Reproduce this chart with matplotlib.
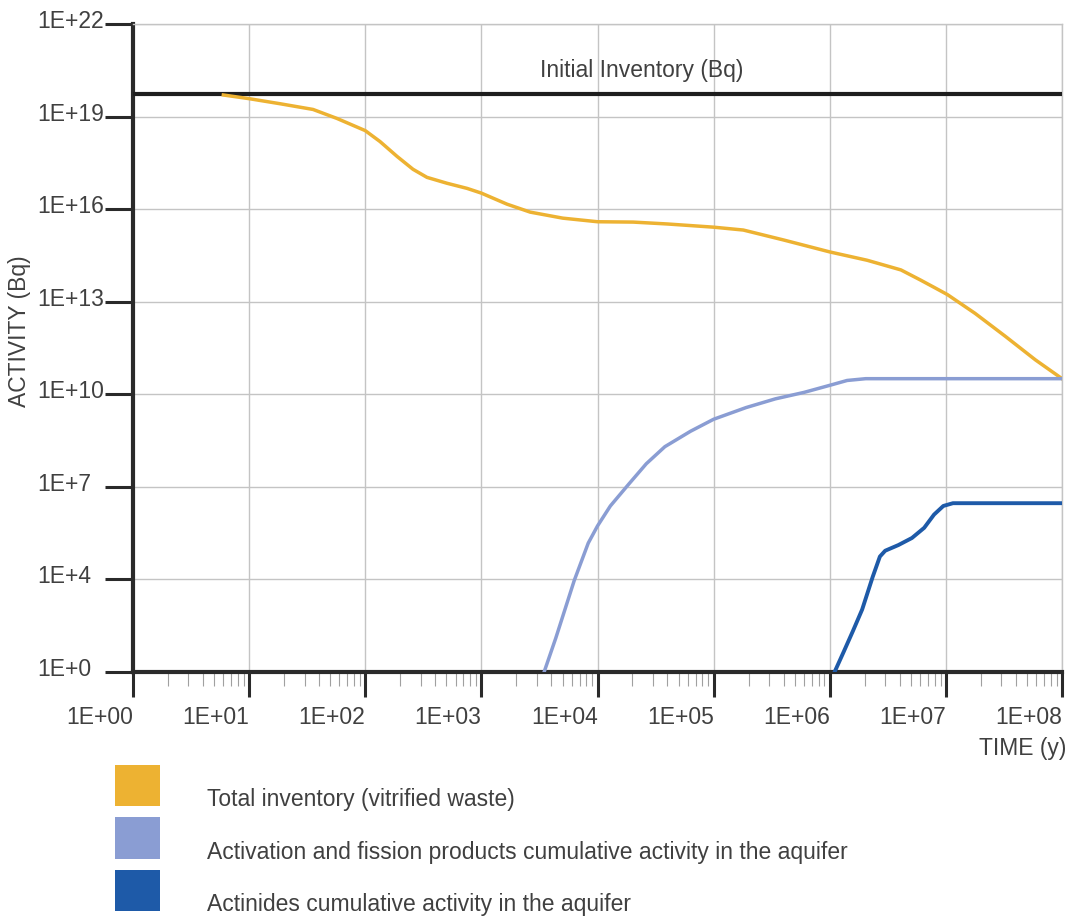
import numpy as np
import matplotlib
matplotlib.use("Agg")
import matplotlib.pyplot as plt
from matplotlib.patches import Patch, Rectangle
from matplotlib.legend_handler import HandlerPatch
from matplotlib.ticker import FixedLocator, LogLocator, NullFormatter, NullLocator
from matplotlib.transforms import ScaledTranslation

plt.rcParams["font.family"] = ["Liberation Sans", "DejaVu Sans"]

# the activity axis puts its labelled decades at equal spacing (0, 4, 7, 10 ... 22)
y_exponents = [0, 4, 7, 10, 13, 16, 19, 22]
y_tick_labels = ["1E+0", "1E+4", "1E+7", "1E+10", "1E+13", "1E+16", "1E+19", "1E+22"]
x_tick_labels = ["1E+00", "1E+01", "1E+02", "1E+03", "1E+04",
                 "1E+05", "1E+06", "1E+07", "1E+08"]

initial_inventory = 5.3e19  # Bq

# total inventory (vitrified waste)
total_time = [6, 10, 18.5, 35.5, 57, 100, 134, 188, 258, 340, 505, 753, 1000,
              1660, 2630, 5020, 1e4, 2.03e4, 4e4, 1e5, 1.8e5, 4e5, 1e6, 2.1e6,
              4.1e6, 6e6, 7.8e6, 1.03e7, 1.78e7, 3.24e7, 5.9e7, 1e8]
total_activity = [5.0e19, 3.8e19, 2.6e19, 1.7e19, 8.7e18, 3.5e18, 1.55e18, 5.1e17,
                  1.95e17, 1.07e17, 6.9e16, 4.7e16, 3.3e16, 1.45e16, 8e15, 5.1e15,
                  3.9e15, 3.8e15, 3.3e15, 2.6e15, 2.1e15, 1e15, 4.1e14, 2.2e14,
                  1.07e14, 5.1e13, 3e13, 1.7e13, 4.2e12, 7.6e11, 1.3e11, 3.2e10]

# activation and fission products, cumulative in the aquifer
fission_time = [3470, 4370, 6310, 8320, 1e4, 1.29e4, 1.86e4, 2.63e4, 3.8e4, 6.31e4,
                1e5, 1.9e5, 3.4e5, 6e5, 1e6, 1.41e6, 2.04e6, 1e7, 1e8]
fission_activity = [1, 29, 9.1e3, 1.5e5, 5.4e5, 2.4e6, 1.23e7, 5.6e7, 2e8, 6.3e8,
                    1.55e9, 3.7e9, 7.1e9, 1.15e10, 1.95e10, 2.8e10, 3.2e10, 3.2e10, 3.2e10]

# actinides, cumulative in the aquifer
actinide_time = [1.1e6, 1.32e6, 1.58e6, 1.9e6, 2.34e6, 2.7e6, 3.0e6, 3.9e6, 5.1e6,
                 6.5e6, 7.9e6, 9.5e6, 1.15e7, 1e8]
actinide_activity = [1, 7.6, 58, 500, 1.2e4, 5.5e4, 8.5e4, 1.3e5, 2.2e5, 4.7e5,
                     1.26e6, 2.4e6, 2.95e6, 2.95e6]

YELLOW = "#EDB232"
LIGHT_BLUE = "#8A9DD3"
DARK_BLUE = "#1E5AA8"
TEXT = "#404040"


def to_slot(v):
    v = np.clip(np.asarray(v, dtype=float), 1e-300, None)
    return np.interp(np.log10(v), y_exponents, np.arange(len(y_exponents)))


def from_slot(u):
    return 10.0 ** np.interp(u, np.arange(len(y_exponents)), y_exponents)


def raised_square(legend, orig_handle, xdescent, ydescent, width, height, fontsize):
    return Rectangle((-xdescent, -ydescent + 0.59 * fontsize), width, height)


fig = plt.figure(figsize=(10.69, 9.19), dpi=100)
ax = fig.add_axes([0.1244, 0.2688, 0.8691, 0.7051])

ax.set_xscale("log")
ax.set_yscale("function", functions=(to_slot, from_slot))
ax.set_xlim(1, 1e8)
ax.set_ylim(1, 1e22)

ax.axhline(initial_inventory, color="#1e1e1e", lw=3, zorder=3)
ax.annotate("Initial Inventory (Bq)", (2.4e4, initial_inventory), xytext=(0, 17),
            textcoords="offset points", ha="center", va="center",
            fontsize=16.5, color=TEXT)

ax.plot(total_time, total_activity, color=YELLOW, lw=2.5, zorder=4, solid_joinstyle="round")
ax.plot(fission_time, fission_activity, color=LIGHT_BLUE, lw=2.5, zorder=4, solid_joinstyle="round")
ax.plot(actinide_time, actinide_activity, color=DARK_BLUE, lw=2.8, zorder=4, solid_joinstyle="round")

# y ticks
ax.yaxis.set_major_locator(FixedLocator([10.0 ** e for e in y_exponents]))
ax.yaxis.set_minor_locator(NullLocator())
ax.set_yticklabels(y_tick_labels, ha="left", fontsize=16.5, color=TEXT)
ax.tick_params(axis="y", which="major", direction="out", length=20, width=2.2,
               color="#2a2a2a", pad=49)
shift = ScaledTranslation(0, 5 / 100, fig.dpi_scale_trans)
for lab in ax.get_yticklabels():
    lab.set_transform(lab.get_transform() + shift)

# x ticks
ax.xaxis.set_major_locator(FixedLocator([10.0 ** i for i in range(9)]))
ax.xaxis.set_minor_locator(LogLocator(base=10, subs=np.arange(2, 10), numticks=50))
ax.xaxis.set_minor_formatter(NullFormatter())
ax.set_xticklabels(x_tick_labels, ha="right", fontsize=16.5, color=TEXT)
ax.tick_params(axis="x", which="major", direction="out", length=18, width=2.2,
               color="#2a2a2a", pad=6.5)
ax.tick_params(axis="x", which="minor", direction="out", length=10, width=0.8,
               color="#a0a0a0")

ax.grid(True, which="major", color="#c4c4c4", lw=1)
for side in ("left", "bottom"):
    ax.spines[side].set_linewidth(3)
    ax.spines[side].set_color("#2a2a2a")
for side in ("top", "right"):
    ax.spines[side].set_linewidth(1)
    ax.spines[side].set_color("#c4c4c4")

fig.text(20 / 1069, 1 - 331 / 919, "ACTIVITY (Bq)", rotation=90, ha="center",
         va="center", fontsize=16.5, color=TEXT)
fig.text(1066 / 1069, 1 - 748 / 919, "TIME (y)", ha="right", va="center",
         fontsize=16.5, color=TEXT)

handles = [Patch(facecolor=YELLOW), Patch(facecolor=LIGHT_BLUE), Patch(facecolor=DARK_BLUE)]
labels = ["Total inventory (vitrified waste)",
          "Activation and fission products cumulative activity in the aquifer",
          "Actinides cumulative activity in the aquifer"]
fig.legend(handles, labels, loc="upper left", bbox_to_anchor=(115 / 1069, 1 - 778.5 / 919),
           frameon=False, fontsize=16.5, labelcolor=TEXT, handlelength=1.97,
           handleheight=2.39, handletextpad=2.05, labelspacing=0.49, borderpad=0,
           borderaxespad=0, handler_map={Patch: HandlerPatch(patch_func=raised_square)})

fig.savefig("out.png", dpi=100)
